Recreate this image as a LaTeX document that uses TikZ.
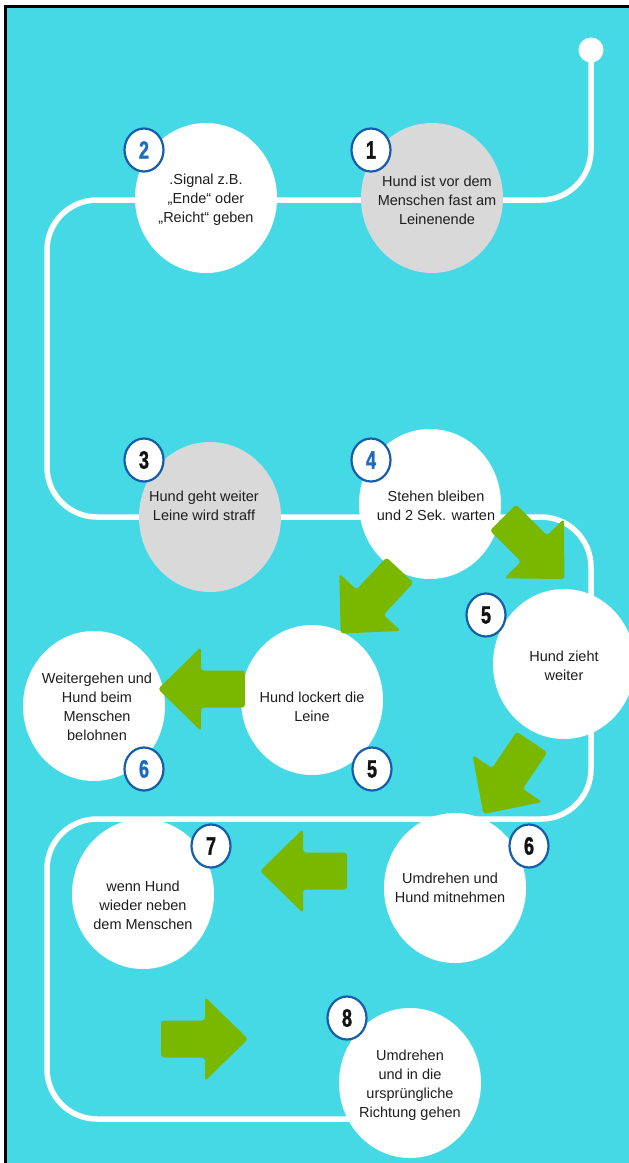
\documentclass[tikz,border=0pt]{standalone}
\usepackage{fontspec}
\usepackage{graphicx}
\setmainfont{Liberation Sans}
\newfontfamily\digitfont[BoldFeatures={FakeBold=1.6}]{Liberation Sans}
\usetikzlibrary{shapes.geometric}
\definecolor{bgcyan}{RGB}{69,217,230}
\definecolor{agreen}{RGB}{122,184,0}
\definecolor{cgray}{RGB}{217,217,217}
\definecolor{ringblue}{RGB}{22,94,170}
\definecolor{digblue}{RGB}{28,108,190}
\definecolor{txt}{RGB}{30,30,30}
\newcommand{\dg}[1]{\scalebox{0.72}[1]{#1}}
\begin{document}
\begin{tikzpicture}[x=1pt,y=-1pt,
  bubble/.style={ellipse, draw=none, fill=white, minimum width=142pt, minimum height=150pt, inner sep=0pt},
  greybubble/.style={bubble, fill=cgray},
  lbl/.style={font=\fontsize{14.5}{19}\selectfont, text=txt, align=center, inner sep=0pt},
  badge/.style={ellipse, fill=white, draw=ringblue, line width=2.2pt, minimum width=39pt, minimum height=43pt, inner sep=0pt, font=\fontsize{25}{25}\digitfont\bfseries, text=black!93},
  bluedigit/.style={text=digblue},
  lead/.style={draw=white, line width=5.5pt, rounded corners=50pt},
  startdot/.style={circle, fill=white, minimum size=25pt, inner sep=0pt},
  barrow/.pic={\fill[agreen, rounded corners=3pt] (0,-18.5) -- (44,-18.5) -- (44,-42) -- (87,0) -- (44,42) -- (44,18.5) -- (0,18.5) -- cycle;}
]
\useasboundingbox (0,0) rectangle (629,1163);
\clip (0,0) rectangle (629,1163);
% background and frame
\fill[white] (0,0) rectangle (629,1163);
\fill[bgcyan] (5.5,6.5) rectangle (640,1175);
\draw[black, line width=3pt] (640,6.5) -- (5.5,6.5) -- (5.5,1175);

% leash path
\node[startdot] (start) at (591,50) {};
\coordinate (p1) at (591,200);
\coordinate (p2) at (47,200);
\coordinate (p3) at (47,517);
\coordinate (p4) at (591,517);
\coordinate (p5) at (591,819);
\coordinate (p6) at (47,819);
\coordinate (p7) at (47,1119);
\coordinate (p8) at (410,1119);
\draw[lead] (start.center) -- (p1) -- (p2) -- (p3) -- (p4) -- (p5) -- (p6) -- (p7) -- (p8);

% bubbles
\node[greybubble] (c1) at (432,198) {};
\node[bubble] (c2) at (206,198) {};
\node[greybubble] (c3) at (210,517) {};
\node[bubble] (c4) at (430,504) {};
\node[bubble] (c5r) at (564,664) {};
\node[bubble] (c5l) at (312,700) {};
\node[bubble] (c6l) at (94,706) {};
\node[bubble] (c6r) at (455,888) {};
\node[bubble] (c7) at (143,894) {};
\node[bubble] (c8) at (410,1083) {};

% texts
\node[lbl] (t1) at (437,200) {Hund ist vor dem\\Menschen fast am\\Leinenende};
\node[lbl] (t2) at (206,200) {.Signal z.B.\\„Ende“ oder\\„Reicht“ geben};
\node[lbl] (t3) at (204,505.5) {Hund geht weiter\\Leine wird straff};
\node[lbl] (t4) at (436,505.5) {Stehen bleiben\\und 2 Sek. warten};
\node[lbl] (t5r) at (564,665.5) {Hund zieht\\weiter};
\node[lbl] (t5l) at (312,706.5) {Hund lockert die\\Leine};
\node[lbl] (t6l) at (97,706.5) {Weitergehen und\\Hund beim\\Menschen\\belohnen};
\node[lbl] (t6r) at (450,887.5) {Umdrehen und\\Hund mitnehmen};
\node[lbl] (t7) at (143,905) {wenn Hund\\wieder neben\\dem Menschen};
\node[lbl] (t8) at (410,1085.5) {Umdrehen\\und in die\\ursprüngliche\\Richtung gehen};

% badges
\node[badge] (b1) at (371,150) {\dg{1}};
\node[badge, bluedigit] (b2) at (144,150) {\dg{2}};
\node[badge] (b3) at (144,460) {\dg{3}};
\node[badge, bluedigit] (b4) at (371,460) {\dg{4}};
\node[badge] (b5r) at (486,615) {\dg{5}};
\node[badge] (b5l) at (372,769) {\dg{5}};
\node[badge, bluedigit] (b6l) at (144,769) {\dg{6}};
\node[badge] (b6r) at (529,846) {\dg{6}};
\node[badge] (b7) at (211,846) {\dg{7}};
\node[badge] (b8) at (347,1018) {\dg{8}};

% green arrows
\pic[rotate=-45] at (503,517.5) {barrow};
\pic[rotate=-133] at (400,570) {barrow};
\pic[rotate=180] at (245,689) {barrow};
\pic[rotate=-124] at (532,742) {barrow};
\pic[rotate=180] at (347,871) {barrow};
\pic at (161,1039) {barrow};
\end{tikzpicture}
\end{document}
